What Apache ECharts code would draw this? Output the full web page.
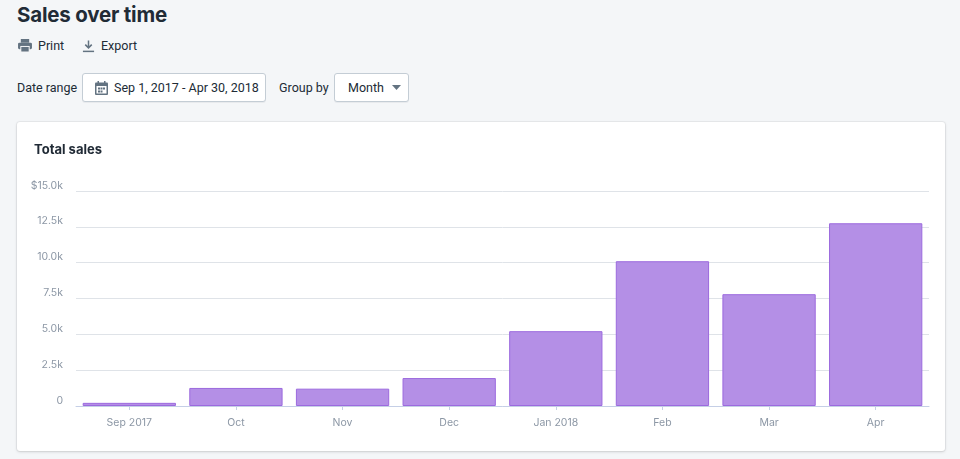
<!DOCTYPE html>
<html>
<head>
<meta charset="utf-8">
<script src="https://cdn.jsdelivr.net/npm/echarts@6/dist/echarts.min.js"></script>
<style>
  html, body { margin:0; padding:0; width:960px; height:459px; background:#f4f6f8; overflow:hidden;
    font-family: Roboto, "Noto Sans", sans-serif; color:#212b36; }
  .abs { position:absolute; white-space:nowrap; }
  #title { left:17px; top:2px; font-size:20.5px; font-weight:700; letter-spacing:-0.2px; font-family: Inter, "Noto Sans", sans-serif; }
  .act { top:38px; font-size:12.5px; color:#212b36; display:flex; align-items:center; }
  .lbl { top:80px; font-size:12.5px; }
  .btn { top:73px; height:29px; background:#fff; border:1px solid #c4cdd5; border-radius:3px;
    box-sizing:border-box; font-size:12.5px; display:flex; align-items:center; box-shadow:0 1px 0 rgba(22,29,37,0.05); }
  #card { left:17px; top:122px; width:928px; height:329px; background:#fff; border-radius:3px;
    box-shadow:0 0 0 1px rgba(63,63,68,0.06), 0 1px 3px rgba(63,63,68,0.18); }
  #chart { left:0; top:0; width:960px; height:459px; }
</style>
</head>
<body>
<div id="title" class="abs">Sales over time</div>
<div class="abs act" style="left:18px;">
  <svg width="14" height="13" viewBox="0 0 15 14" style="margin-right:6px"><rect x="3" y="0" width="9" height="4" fill="#637381"/><rect x="0" y="4" width="15" height="7" rx="1.5" fill="#637381"/><rect x="3" y="8" width="9" height="6" fill="#637381" stroke="#fff" stroke-width="1"/></svg>Print
</div>
<div class="abs act" style="left:82px;">
  <svg width="13" height="14" viewBox="0 0 14 14" style="margin-right:6px"><path d="M7 1 V9 M3.5 5.5 L7 9 L10.5 5.5" stroke="#637381" stroke-width="1.6" fill="none"/><rect x="1" y="12" width="12" height="1.6" fill="#637381"/></svg>Export
</div>
<div class="abs lbl" style="left:17px;">Date range</div>
<div class="abs btn" style="left:82px; width:184px; padding-left:12px;">
  <svg width="13" height="14" viewBox="0 0 13 14" style="margin-right:6px"><rect x="0" y="1.5" width="13" height="12.5" rx="1" fill="#637381"/><rect x="1.5" y="5" width="10" height="7.5" fill="#fff"/><rect x="3" y="6.5" width="2" height="2" fill="#637381"/><rect x="5.5" y="6.5" width="2" height="2" fill="#637381"/><rect x="8" y="6.5" width="2" height="2" fill="#637381"/><rect x="3" y="9.5" width="2" height="2" fill="#637381"/><rect x="5.5" y="9.5" width="2" height="2" fill="#637381"/><rect x="2.5" y="0" width="1.5" height="3" fill="#637381"/><rect x="9" y="0" width="1.5" height="3" fill="#637381"/></svg>Sep 1, 2017 - Apr 30, 2018
</div>
<div class="abs lbl" style="left:279px;">Group by</div>
<div class="abs btn" style="left:334px; width:75px; padding-left:13px;">
  Month<svg width="9" height="5" viewBox="0 0 9 5" style="margin-left:8px"><path d="M0 0 L9 0 L4.5 5 Z" fill="#637381"/></svg>
</div>
<div id="card" class="abs"></div>
<div id="chart" class="abs"></div>
<script>
const categories = ['Sep 2017', 'Oct', 'Nov', 'Dec', 'Jan 2018', 'Feb', 'Mar', 'Apr'];
const totalSales = [220, 1260, 1210, 1950, 5220, 10100, 7800, 12750];
const yTicks = [0, 2500, 5000, 7500, 10000, 12500, 15000];

const chart = echarts.init(document.getElementById('chart'), null, { renderer: 'canvas' });
chart.setOption({
  backgroundColor: 'transparent',
  animation: false,
  title: {
    text: 'Total sales', left: 34, top: 144, padding: 0,
    textStyle: { fontSize: 13, fontWeight: 'bold', color: '#212b36', fontFamily: 'Inter, "Noto Sans", sans-serif' }
  },
  grid: { left: 76, right: 31, top: 191, bottom: 53 },
  xAxis: {
    type: 'category',
    data: categories,
    axisLine: { lineStyle: { color: '#c5cfe6', width: 1 } },
    axisTick: { show: true, alignWithLabel: true, length: 4, lineStyle: { color: '#c5cfe6' } },
    axisLabel: { color: '#8c97a5', fontSize: 10.5, margin: 11, fontFamily: 'Inter, "Noto Sans", sans-serif' }
  },
  yAxis: {
    type: 'value',
    min: 0, max: 15000, interval: 2500,
    axisLine: { show: false },
    axisTick: { show: false },
    splitLine: { lineStyle: { color: '#dfe3e8', width: 1 } },
    axisLabel: {
      color: '#8c97a5', fontSize: 10.5, margin: 13, verticalAlign: 'bottom',
      fontFamily: 'Inter, "Noto Sans", sans-serif',
      formatter: function (v) {
        if (v === 0) return '0';
        const s = (v / 1000).toFixed(1) + 'k';
        return v === yTicks[yTicks.length - 1] ? '$' + s : s;
      }
    }
  },
  series: [{
    type: 'bar',
    data: totalSales,
    barCategoryGap: '12.5%',
    itemStyle: { color: '#b48fe6', borderColor: '#9c6ade', borderWidth: 1 }
  }]
});
</script>
</body>
</html>
